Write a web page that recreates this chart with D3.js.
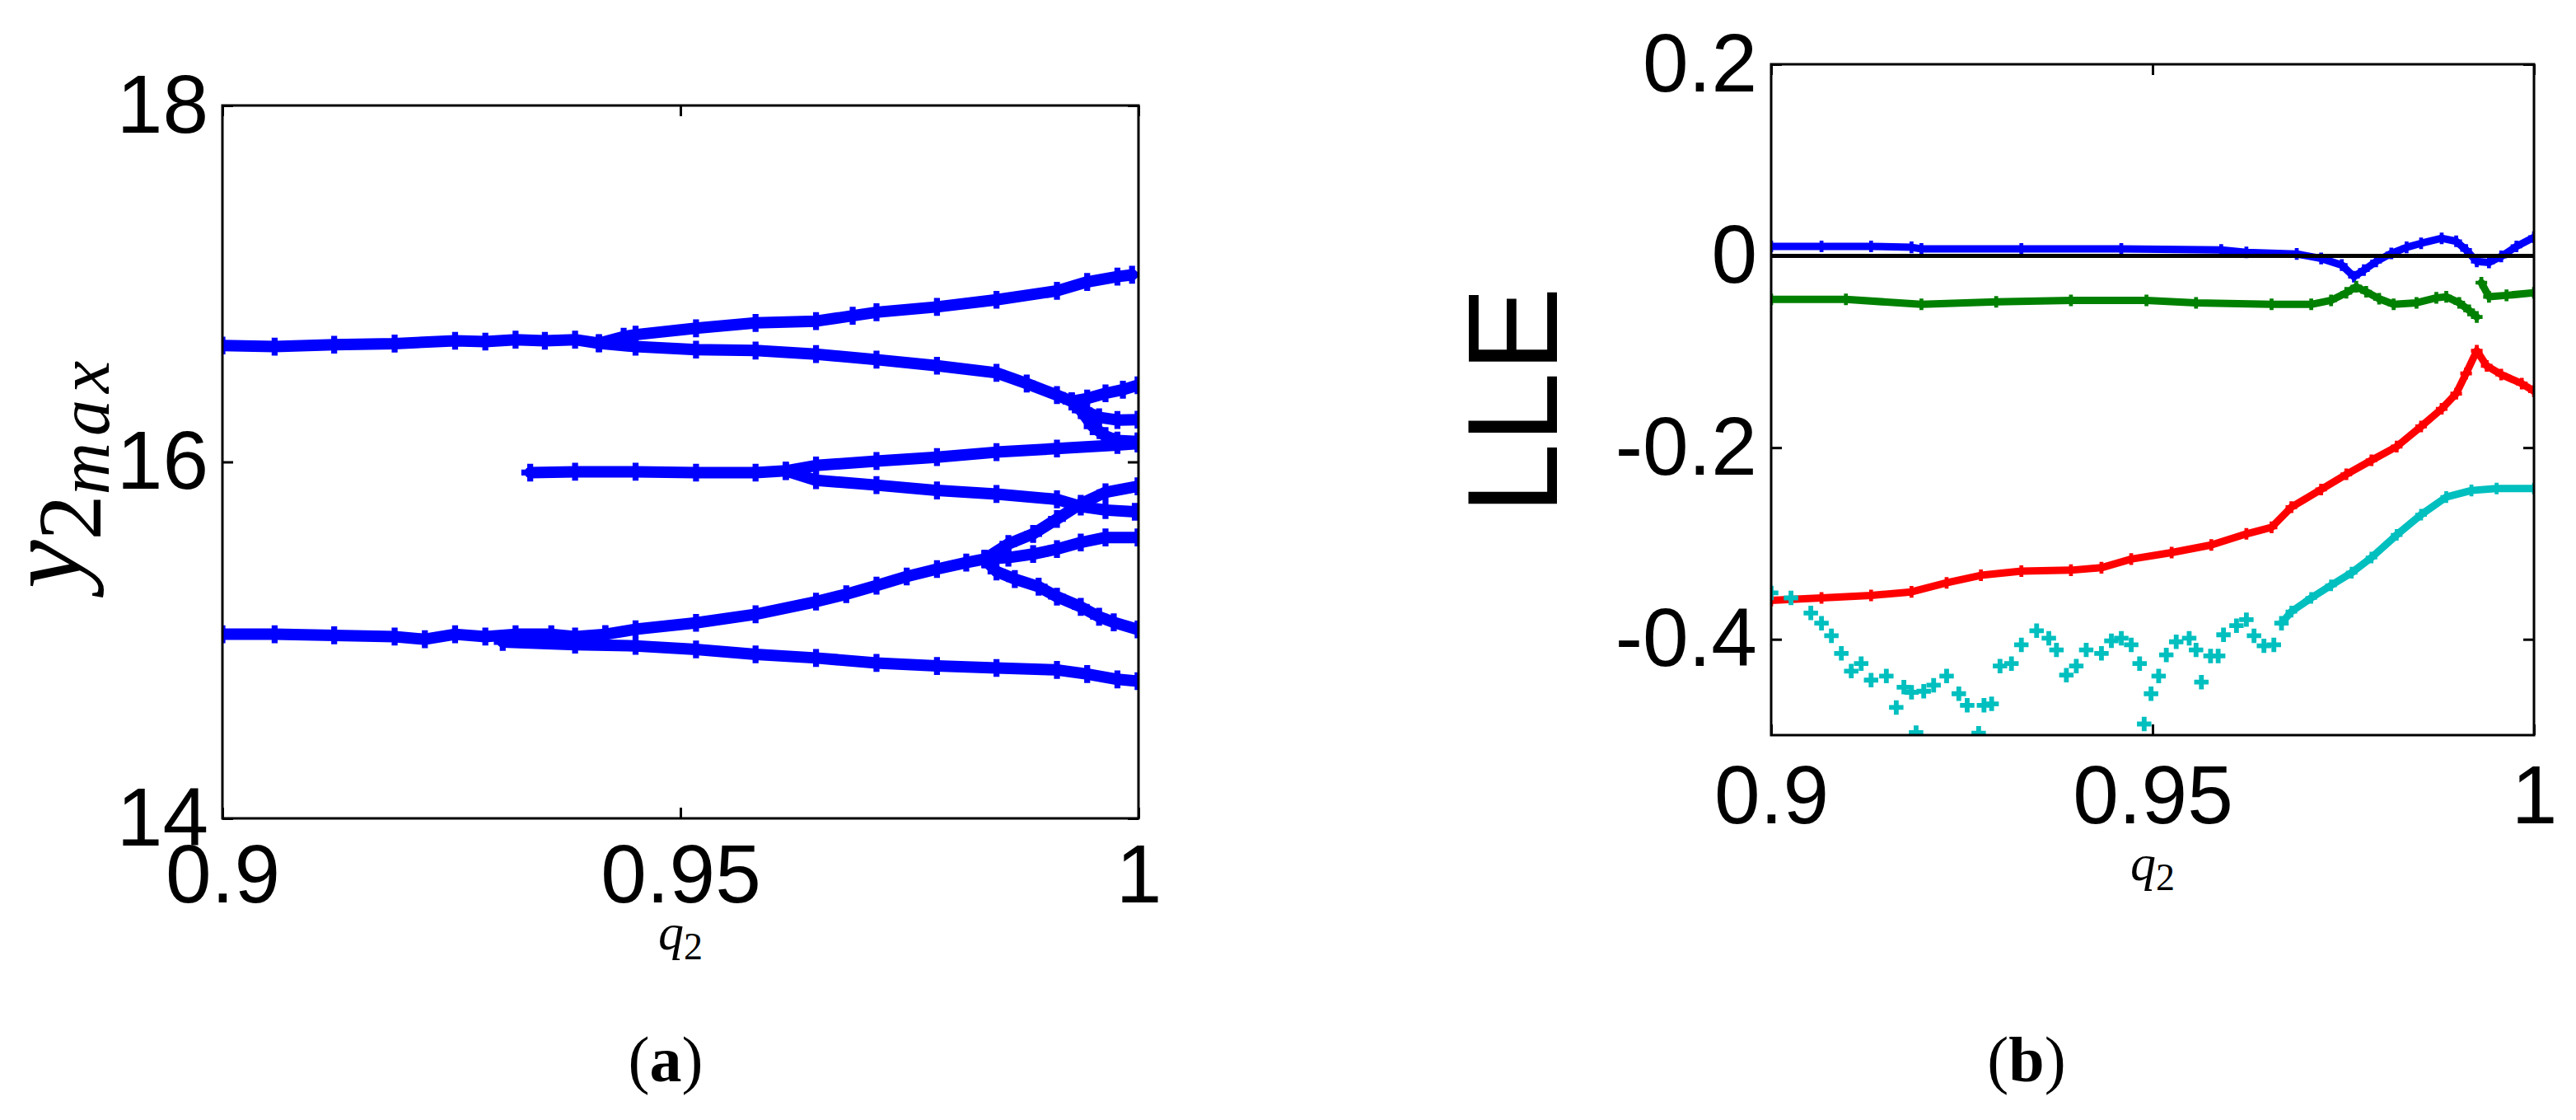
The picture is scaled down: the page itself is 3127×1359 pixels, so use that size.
<!DOCTYPE html>
<html><head><meta charset="utf-8">
<script src="https://cdn.jsdelivr.net/npm/d3@7"></script>
<style>body{margin:0;background:#fff}svg{display:block}</style>
</head><body>
<svg id="c" width="3127" height="1359"></svg>
<script>
// ---------- data: panel (a) bifurcation branches [q2, y2max] ----------
const xTicks = [0.9, 0.95, 1];
const aYTicks = [14, 16, 18];
const bYTicks = [-0.4, -0.2, 0, 0.2];

const bandA = [[0.9,16.653],[0.9057,16.647],[0.9122,16.658],[0.9188,16.664],[0.9254,16.68],[0.9287,16.675],[0.932,16.686],[0.9352,16.68],[0.9385,16.686],[0.9411,16.666]];
const bandAUp = [[0.9411,16.666],[0.9438,16.703],[0.9451,16.714],[0.9517,16.75],[0.9582,16.78],[0.9648,16.79],[0.9688,16.82],[0.9714,16.84],[0.978,16.87],[0.9845,16.91],[0.9911,16.96],[0.9944,17.01],[0.9977,17.04],[0.9993,17.05]];
const bandALow = [[0.9411,16.666],[0.9451,16.647],[0.9517,16.63],[0.9582,16.625],[0.9648,16.605],[0.9714,16.574],[0.978,16.54],[0.9845,16.5],[0.9878,16.44],[0.9911,16.375],[0.9927,16.34]];
const bandA1 = [[0.9927,16.34],[0.9944,16.356],[0.9964,16.385],[0.9983,16.405],[0.9999,16.43]];
const bandA2 = [[0.9927,16.34],[0.994,16.29],[0.9957,16.25],[0.9977,16.235],[0.9999,16.237]];
const bandA3 = [[0.9927,16.34],[0.9937,16.29],[0.995,16.2],[0.9964,16.145],[0.9977,16.12],[0.9999,16.115]];
const bandB = [[0.9336,15.94],[0.9385,15.945],[0.9451,15.945],[0.9517,15.94],[0.9582,15.94],[0.9615,15.95]];
const bandBUp = [[0.9615,15.95],[0.9648,15.98],[0.9714,16.005],[0.978,16.027],[0.9845,16.055],[0.9911,16.075],[0.9977,16.095],[0.9999,16.103]];
const bandBLow = [[0.9615,15.95],[0.9648,15.897],[0.9714,15.87],[0.978,15.84],[0.9845,15.82],[0.9911,15.79],[0.9937,15.75],[0.9964,15.73],[0.9996,15.72]];
const bandC = [[0.9,15.033],[0.9057,15.033],[0.9122,15.027],[0.9188,15.02],[0.9221,15.005],[0.9254,15.033],[0.9287,15.02],[0.932,15.033],[0.9359,15.033],[0.9385,15.02],[0.9418,15.033]];
const bandCLow = [[0.9306,14.99],[0.9385,14.975],[0.9451,14.968],[0.9517,14.948],[0.9582,14.92],[0.9648,14.9],[0.9714,14.872],[0.978,14.855],[0.9845,14.844],[0.9911,14.833],[0.9944,14.81],[0.9977,14.78],[0.9999,14.77]];
const bandCUp = [[0.9418,15.033],[0.9451,15.061],[0.9517,15.097],[0.9582,15.145],[0.9648,15.216],[0.9681,15.258],[0.9714,15.306],[0.9747,15.357],[0.978,15.399],[0.9812,15.435],[0.9832,15.455]];
const bandC1 = [[0.9832,15.455],[0.9858,15.54],[0.9885,15.596],[0.9911,15.68],[0.9937,15.765],[0.9964,15.83],[0.9999,15.863]];
const bandC2 = [[0.9832,15.455],[0.9858,15.463],[0.9885,15.483],[0.9911,15.511],[0.9937,15.548],[0.9964,15.576],[0.9999,15.576]];
const bandC3 = [[0.9832,15.455],[0.9845,15.385],[0.9865,15.343],[0.9891,15.3],[0.9911,15.244],[0.9937,15.187],[0.9957,15.131],[0.9973,15.1],[0.9999,15.06]];
const branchesA = [bandA, bandAUp, bandALow, bandA1, bandA2, bandA3, bandB, bandBUp, bandBLow, bandC, bandCLow, bandCUp, bandC1, bandC2, bandC3];

// ---------- data: panel (b) Lyapunov exponents [q2, LLE] ----------
const lleBlue = [[0.9,0.010],[0.9066,0.010],[0.9131,0.010],[0.9184,0.009],[0.9197,0.0074],[0.9328,0.0074],[0.9459,0.0074],[0.959,0.0063],[0.9623,0.0037],[0.9689,0.0021],[0.9721,-0.0026],[0.9748,-0.0095],[0.9764,-0.0216],[0.9777,-0.0147],[0.9793,-0.0058],[0.9813,0.0026],[0.9833,0.009],[0.9852,0.0132],[0.9879,0.0184],[0.9898,0.0153],[0.9911,0.0063],[0.9925,-0.0058],[0.9941,-0.0068],[0.9957,-0.0005],[0.9977,0.010],[1.0,0.0195]];
const lleGreenA = [[0.9,-0.0453],[0.9098,-0.0453],[0.9197,-0.0505],[0.9295,-0.0479],[0.9393,-0.0463],[0.9492,-0.0463],[0.9557,-0.0489],[0.9656,-0.0505],[0.9708,-0.0505],[0.9734,-0.0463],[0.9754,-0.0384],[0.9767,-0.0321],[0.978,-0.0374],[0.9797,-0.0447],[0.9816,-0.0505],[0.9846,-0.0489],[0.9872,-0.0437],[0.9885,-0.0426],[0.9902,-0.0489],[0.9915,-0.0568],[0.9925,-0.0637]];
const lleGreenB = [[0.9931,-0.0279],[0.9941,-0.0426],[0.9964,-0.0411],[1.0,-0.0384]];
const lleRed = [[0.9,-0.3595],[0.9066,-0.3568],[0.9131,-0.3542],[0.9184,-0.3505],[0.923,-0.3411],[0.9275,-0.3332],[0.9328,-0.3289],[0.9393,-0.3279],[0.9433,-0.3253],[0.9472,-0.3163],[0.9525,-0.3095],[0.9577,-0.3016],[0.9623,-0.29],[0.9656,-0.2832],[0.9682,-0.2621],[0.9721,-0.2437],[0.9754,-0.2279],[0.9787,-0.2132],[0.982,-0.1989],[0.9852,-0.1779],[0.9879,-0.1595],[0.9898,-0.1437],[0.9911,-0.1226],[0.9925,-0.0989],[0.9938,-0.1147],[0.9957,-0.1237],[0.9984,-0.1332],[1.0,-0.1411]];
const lleCyanScatter = [[0.9,-0.3516],[0.9026,-0.3568],[0.9052,-0.3726],[0.9066,-0.3832],[0.9079,-0.3963],[0.9092,-0.4147],[0.9105,-0.4332],[0.9118,-0.4253],[0.9131,-0.4426],[0.9151,-0.4384],[0.9164,-0.4711],[0.9174,-0.45],[0.9184,-0.4553],[0.919,-0.4974],[0.92,-0.4542],[0.9213,-0.4479],[0.923,-0.4384],[0.9246,-0.4568],[0.9257,-0.4689],[0.9272,-0.498],[0.9279,-0.4689],[0.9289,-0.4674],[0.93,-0.4279],[0.9315,-0.4253],[0.9328,-0.4058],[0.9348,-0.3911],[0.9364,-0.3989],[0.9374,-0.4111],[0.9387,-0.4374],[0.94,-0.4279],[0.9413,-0.4111],[0.9433,-0.4147],[0.9446,-0.4016],[0.9459,-0.3989],[0.9472,-0.4058],[0.9483,-0.4253],[0.9489,-0.4884],[0.9498,-0.4568],[0.9508,-0.4384],[0.9518,-0.4163],[0.9531,-0.4026],[0.9548,-0.3989],[0.9557,-0.4111],[0.9564,-0.4447],[0.9576,-0.4174],[0.9586,-0.4174],[0.9593,-0.3953],[0.961,-0.3858],[0.9623,-0.3795],[0.9633,-0.3963],[0.9646,-0.4068],[0.9659,-0.4058],[0.9669,-0.3832]];
const lleCyanTail = [[0.9669,-0.3832],[0.9682,-0.3711],[0.9708,-0.3568],[0.9734,-0.3437],[0.9761,-0.3305],[0.9787,-0.3147],[0.982,-0.2911],[0.9852,-0.27],[0.9885,-0.2516],[0.9918,-0.2447],[0.9951,-0.2426],[1.0,-0.2426]];

// ---------- drawing ----------
const svg = d3.select('#c');
svg.append('rect').attr('width',3127).attr('height',1359).attr('fill','#fff');
const SANS = '"Liberation Sans", Arial, Helvetica, sans-serif';
const SERIF = '"Liberation Serif", "Times New Roman", serif';
const defs = svg.append('defs');

function panel(o) {
  const x = d3.scaleLinear().domain([0.9, 1]).range([o.l, o.r]);
  const y = d3.scaleLinear().domain(o.yDom).range([o.b, o.t]);
  defs.append('clipPath').attr('id', o.id).append('rect')
    .attr('x', o.l).attr('y', o.t).attr('width', o.r - o.l).attr('height', o.b - o.t);
  const g = svg.append('g');
  const plot = g.append('g').attr('clip-path', `url(#${o.id})`);
  return {x, y, g, plot};
}

function band(p, data, color, lw, msize, drawLine) {
  const line = d3.line().x(d => p.x(d[0])).y(d => p.y(d[1]));
  if (drawLine) {
    p.plot.append('path').attr('d', line(data)).attr('fill','none')
      .attr('stroke', color).attr('stroke-width', lw)
      .attr('stroke-linejoin','round').attr('stroke-linecap','round');
  }
  p.plot.selectAll(null).data(data).enter().append('path')
    .attr('d', d3.symbol().type(d3.symbolCross).size(msize)())
    .attr('transform', d => `translate(${p.x(d[0])},${p.y(d[1])})`)
    .attr('fill', color);
}

function axes(p, o, yTicks, yFmt, xPad) {
  const fs = 100;
  const xb = p.g.append('g').attr('transform', `translate(0,${o.b})`)
    .call(d3.axisBottom(p.x).tickValues(xTicks).tickSize(-13).tickPadding(xPad).tickFormat(d => String(d)));
  const xt = p.g.append('g').attr('transform', `translate(0,${o.t})`)
    .call(d3.axisTop(p.x).tickValues(xTicks).tickSize(-13).tickFormat(''));
  const yl = p.g.append('g').attr('transform', `translate(${o.l},0)`)
    .call(d3.axisLeft(p.y).tickValues(yTicks).tickSize(-13).tickPadding(17).tickFormat(yFmt));
  const yr = p.g.append('g').attr('transform', `translate(${o.r},0)`)
    .call(d3.axisRight(p.y).tickValues(yTicks).tickSize(-13).tickFormat(''));
  [xb, xt, yl, yr].forEach(a => {
    a.select('.domain').remove();
    a.selectAll('line').attr('stroke','#000').attr('stroke-width',3);
    a.selectAll('text').attr('font-family', SANS).attr('font-size', fs).attr('fill','#000');
  });
  p.g.append('rect').attr('x', o.l).attr('y', o.t).attr('width', o.r - o.l).attr('height', o.b - o.t)
    .attr('fill','none').attr('stroke','#000').attr('stroke-width',3);
}

// Panel (a)
const oa = {id:'ca', l:270, r:1382, t:128, b:993, yDom:[14,18]};
const pa = panel(oa);
branchesA.forEach(br => band(pa, br, '#0000ff', 14, 260, true));
axes(pa, oa, aYTicks, d => String(d), 31);

// y label (a)
const yla = svg.append('text').attr('transform','translate(98,572) rotate(-90)')
  .attr('text-anchor','middle').attr('font-family', SERIF).attr('fill','#000');
yla.append('tspan').attr('font-size',132).attr('font-style','italic').text('y');
yla.append('tspan').attr('font-size',110).attr('dy',24).text('2');
yla.append('tspan').attr('font-size',88).attr('font-style','italic').attr('dy',10).attr('letter-spacing',8).text('max');

// x label
function qLabel(cx, base) {
  const t = svg.append('text').attr('x', cx).attr('y', base).attr('text-anchor','middle')
    .attr('font-family', SERIF).attr('fill','#000');
  t.append('tspan').attr('font-size',62).attr('font-style','italic').text('q');
  t.append('tspan').attr('font-size',46).attr('dy',12).text('2');
}
qLabel(826, 1152);

// Panel (b)
const ob = {id:'cb', l:2150, r:3076, t:78, b:892, yDom:[-0.5,0.2]};
const pb = panel(ob);
band(pb, lleBlue, '#0000ff', 9, 110, true);
band(pb, lleGreenA, '#008000', 9, 110, true);
band(pb, lleGreenB, '#008000', 9, 110, true);
band(pb, lleRed, '#ff0000', 9, 110, true);
band(pb, lleCyanScatter, '#00bfbf', 9, 170, false);
band(pb, lleCyanTail, '#00bfbf', 9, 110, true);
pb.plot.append('line').attr('x1', ob.l).attr('x2', ob.r)
  .attr('y1', pb.y(0)).attr('y2', pb.y(0)).attr('stroke','#000').attr('stroke-width',5);
axes(pb, ob, bYTicks, d => String(d), 36);

svg.append('text').attr('transform','translate(1890,486) rotate(-90)')
  .attr('text-anchor','middle').attr('font-family', SANS).attr('font-size',155).attr('fill','#000').text('LLE');
qLabel(2613, 1068);

// captions
function caption(cx, letter) {
  const t = svg.append('text').attr('x', cx).attr('y', 1312).attr('text-anchor','middle')
    .attr('font-family', SERIF).attr('font-size', 78).attr('fill','#000');
  t.append('tspan').text('(');
  t.append('tspan').attr('font-weight','bold').text(letter);
  t.append('tspan').text(')');
}
caption(808, 'a');
caption(2460, 'b');
</script>
</body></html>
